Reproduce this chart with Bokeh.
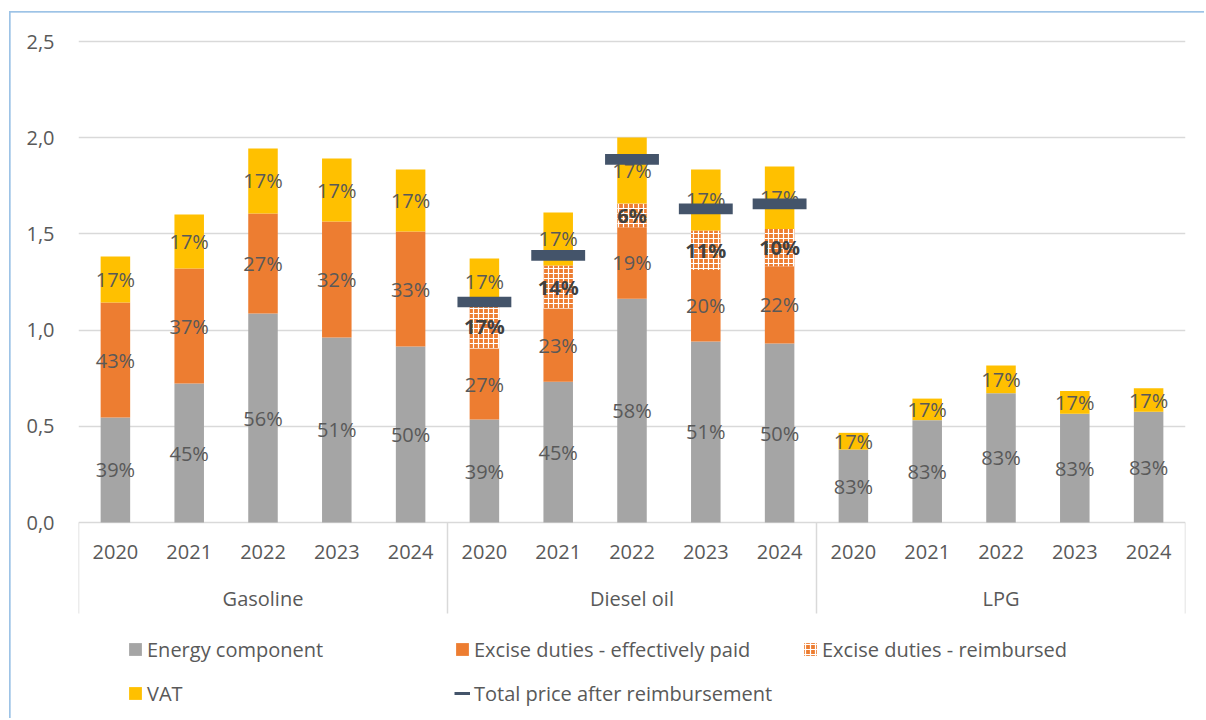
from bokeh.plotting import figure
from bokeh.models import (ColumnDataSource, FactorRange, Range1d, FixedTicker,
                          CustomJSTickFormatter, Legend, LegendItem)
from bokeh.core.properties import value
from bokeh.embed import file_html
from bokeh.resources import INLINE

# ---------------- data ----------------
fuels = ["Gasoline", "Diesel oil", "LPG"]
years = ["2020", "2021", "2022", "2023", "2024"]

# values in fuel order (Gasoline 2020..2024, Diesel oil 2020..2024, LPG 2020..2024)
energy = [0.546, 0.722, 1.086, 0.962, 0.915,
          0.535, 0.732, 1.163, 0.941, 0.930,
          0.379, 0.532, 0.672, 0.565, 0.575]
excise_paid = [0.597, 0.598, 0.520, 0.602, 0.597,
               0.369, 0.380, 0.372, 0.372, 0.402,
               0.0, 0.0, 0.0, 0.0, 0.0]
excise_reimb = [0.0, 0.0, 0.0, 0.0, 0.0,
                0.234, 0.224, 0.123, 0.205, 0.194,
                0.0, 0.0, 0.0, 0.0, 0.0]
vat = [0.240, 0.281, 0.338, 0.328, 0.323,
       0.234, 0.275, 0.343, 0.317, 0.324,
       0.087, 0.112, 0.144, 0.118, 0.123]

diesel_total_after = [1.146, 1.388, 1.887, 1.630, 1.656]

lbl_energy = ["39%", "45%", "56%", "51%", "50%",
              "39%", "45%", "58%", "51%", "50%",
              "83%", "83%", "83%", "83%", "83%"]
lbl_paid = ["43%", "37%", "27%", "32%", "33%",
            "27%", "23%", "19%", "20%", "22%",
            "", "", "", "", ""]
lbl_reimb = ["", "", "", "", "",
             "17%", "14%", "6%", "11%", "10%",
             "", "", "", "", ""]
lbl_vat = ["17%"] * 15

y_ticks = [0.0, 0.5, 1.0, 1.5, 2.0, 2.5]

series_names = ["Energy component", "Excise duties - effectively paid",
                "Excise duties - reimbursed", "VAT"]
total_name = "Total price after reimbursement"

# ---------------- style ----------------
GRAY = "#A5A5A5"
ORANGE = "#ED7D31"
YELLOW = "#FFC000"
DARK = "#44546A"
TXT = "#595959"
GRID = "#D9D9D9"
FONT = "Open Sans"

W, H = 1204, 718
top_b, bot_b, left_b, right_b = 20, 0, 78, W - 1185
zero_px, top_tick_px = 522, 41
ppu = (zero_px - top_tick_px) / 2.5
y_end = (zero_px - top_b) / ppu
y_start = -((H - bot_b) - zero_px) / ppu
year_y = -29 / ppu
group_y = -76 / ppu
sep_y = -91 / ppu

factors = [(f, y) for f in fuels for y in years]

p = figure(width=W, height=H, x_range=FactorRange(*factors, factor_padding=0,
           group_padding=0, subgroup_padding=0, range_padding=0),
           y_range=Range1d(y_start, y_end), output_backend="svg",
           toolbar_location=None, x_axis_location=None,
           min_border_left=left_b, min_border_right=right_b,
           min_border_top=top_b, min_border_bottom=bot_b)
p.outline_line_color = None
p.border_fill_color = None
p.background_fill_color = None
p.styles = {
    "background-image": "linear-gradient(#9DC3E6, #9DC3E6), linear-gradient(#9DC3E6, #9DC3E6)",
    "background-size": "1.7px 100%, 100% 1.7px",
    "background-position": "9.3px 11px, 9.3px 11px",
    "background-repeat": "no-repeat",
}

p.xgrid.grid_line_color = None
p.ygrid.ticker = FixedTicker(ticks=y_ticks)
p.ygrid.grid_line_color = GRID
p.ygrid.grid_line_width = 1.5

ax = p.yaxis[0]
ax.ticker = FixedTicker(ticks=y_ticks)
ax.formatter = CustomJSTickFormatter(code="return tick.toFixed(1).replace('.', ',')")
ax.axis_line_color = None
ax.major_tick_line_color = None
ax.minor_tick_line_color = None
ax.major_label_standoff = 18
ax.major_label_text_font = FONT
ax.major_label_text_font_size = "20px"
ax.major_label_text_color = TXT

src = ColumnDataSource(dict(x=factors, energy=energy, paid=excise_paid,
                            reimb=excise_reimb, vat=vat))
rs = p.vbar_stack(["energy", "paid", "reimb", "vat"], x="x", width=0.4, source=src,
                  fill_color=[GRAY, ORANGE, ORANGE, YELLOW], line_color=None,
                  hatch_pattern=[None, None, "cross", None],
                  hatch_color="white", hatch_scale=5, hatch_weight=1.2)

# data labels at segment centres
nx, ny, nt, bx, by, bt = [], [], [], [], [], []
for i, fac in enumerate(factors):
    base = 0.0
    for val, lbl, bold in ((energy[i], lbl_energy[i], False),
                           (excise_paid[i], lbl_paid[i], False),
                           (excise_reimb[i], lbl_reimb[i], True),
                           (vat[i], lbl_vat[i], False)):
        if lbl:
            (bx if bold else nx).append(fac)
            (by if bold else ny).append(base + val / 2)
            (bt if bold else nt).append(lbl)
        base += val

p.text(x=nx, y=ny, text=nt, text_align="center", text_baseline="middle",
       text_font=value(FONT), text_font_size="20px", text_color=TXT)
p.text(x=bx, y=by, text=bt, text_align="center", text_baseline="middle",
       text_font=value(FONT), text_font_size="20px", text_color="#404040",
       text_font_style="bold")

# total price after reimbursement (diesel)
diesel_factors = [("Diesel oil", y) for y in years]
dash = p.rect(x=diesel_factors, y=diesel_total_after, width=0.73, height=10.7,
              height_units="screen", fill_color=DARK, line_color=None)

# category axis drawn inside the frame (Excel-style)
p.text(x=factors, y=[year_y] * len(factors), text=[f[1] for f in factors],
       text_align="center", text_baseline="middle", text_font=value(FONT),
       text_font_size="20px", text_color=TXT)
p.text(x=fuels, y=[group_y] * len(fuels), text=fuels,
       text_align="center", text_baseline="middle", text_font=value(FONT),
       text_font_size="20px", text_color=TXT)
bounds = [0]
for f in fuels:
    bounds.append(bounds[-1] + len(years))
p.segment(x0=bounds, y0=[0] * len(bounds), x1=bounds, y1=[sep_y] * len(bounds),
          line_color=GRID, line_width=1.5)

# legend-only renderer for the total-price marker (one invisible NaN point)
dummy = p.line(x=[diesel_factors[0]], y=[float("nan")], line_color=DARK, line_width=3)

def add_legend(items, x, y):
    lg = Legend(items=items, location=(x, y), orientation="vertical",
                spacing=17, padding=0, margin=0, glyph_width=16, glyph_height=16,
                label_standoff=4, label_height=20, label_text_font=FONT,
                label_text_font_size="20px", label_text_color=TXT,
                border_line_color=None, background_fill_alpha=0)
    p.add_layout(lg)

add_legend([LegendItem(label=series_names[0], renderers=[rs[0]]),
            LegendItem(label=series_names[3], renderers=[rs[3]])], 49, 11.5)
add_legend([LegendItem(label=series_names[1], renderers=[rs[1]]),
            LegendItem(label=total_name, renderers=[dummy])], 376, 11.5)
add_legend([LegendItem(label=series_names[2], renderers=[rs[2]])], 724, 55.5)

open("out.html", "w").write(file_html(p, INLINE))
